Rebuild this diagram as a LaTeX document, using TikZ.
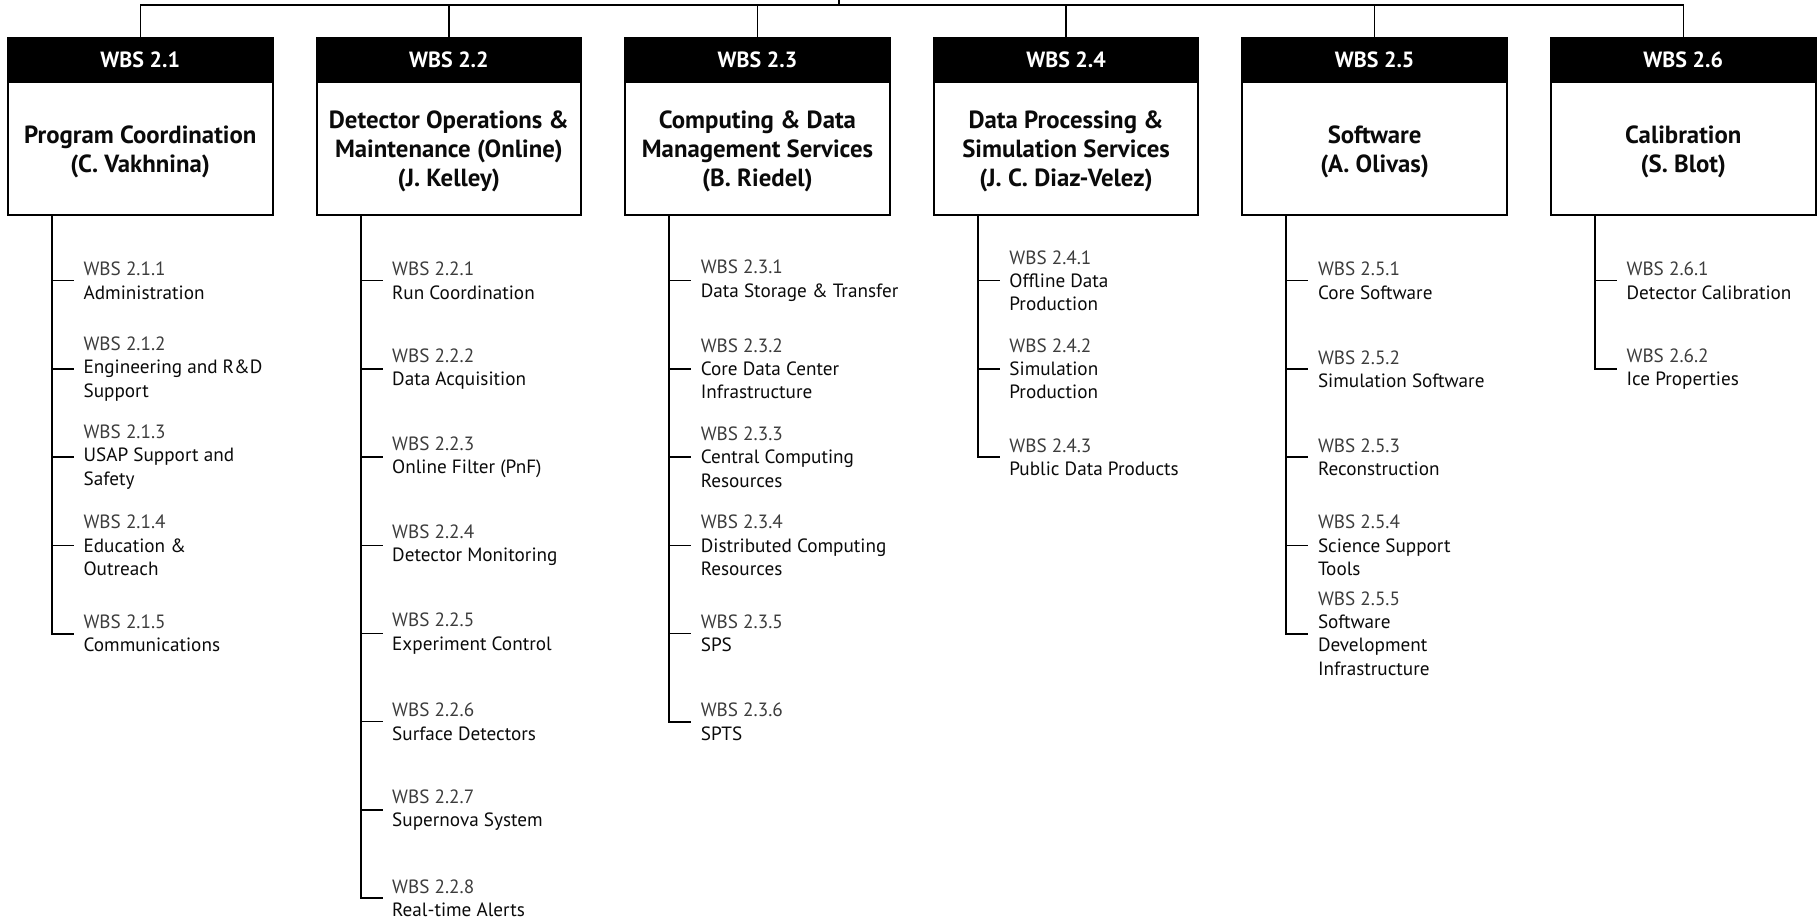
\documentclass[tikz,border=0pt]{standalone}
\usepackage{fontspec}
\setmainfont{PT Sans}
\definecolor{numgray}{HTML}{3C3C3C}
\definecolor{txtblack}{HTML}{0A0A0A}
\newcommand\wbsnum[1]{{\color{numgray}WBS #1}}
\tikzset{
  hdr/.style={draw=black, fill=black, line width=1.5pt, minimum width=198.4pt, minimum height=33pt, inner sep=0pt,
    text=white, font=\bfseries\fontsize{16.5}{18}\selectfont},
  bodybox/.style={draw=black, line width=1.5pt, minimum width=198.4pt, minimum height=99.75pt, inner sep=0pt},
  bodytext/.style={inner sep=0pt, align=center, font=\bfseries\fontsize{18.6}{21.75}\selectfont, text=txtblack},
  itemnode/.style={anchor=west, align=left, inner xsep=7pt, inner ysep=0pt,
    font=\fontsize{14.4}{17.4}\selectfont, text=txtblack},
  trunk/.style={line width=1.5pt},
  tick/.style={line width=1pt},
  bus/.style={line width=1.1pt}
}
\begin{document}
\begin{tikzpicture}[x=0.75pt, y=-0.75pt]
\useasboundingbox (0,0) rectangle (1819,923);
% boxes
\foreach \i/\L/\title in {1/8/{Program Coordination\\(C. Vakhnina)},
  2/316.6/{Detector Operations \&\\Maintenance (Online)\\(J. Kelley)},
  3/625.2/{Computing \& Data\\Management Services\\(B. Riedel)},
  4/933.8/{Data Processing \&\\Simulation Services\\(J. C. Diaz-Velez)},
  5/1242.4/{Software\\(A. Olivas)},
  6/1551/{Calibration\\(S. Blot)}}{
  \node[bodybox] (b\i) at (\L+132.25,148.5) {};
  \node[bodytext] (bt\i) at ([yshift=-2.3pt]b\i.center) {\title};
  \node[hdr] (h\i) at (\L+132.25,60) {WBS 2.\i};
  \coordinate (t\i) at (\L+44,215);
}
% bus
\coordinate (root) at (839,0);
\coordinate (busy) at (0,5);
\draw[bus] (h1.north) -- (h1.north |- busy) -- (h6.north |- busy) -- (h6.north);
\foreach \i in {2,3,4,5}{\draw[bus] (h\i.north) -- (h\i.north |- busy);}
\draw[bus] (root) -- (root |- busy);

% column 1
\node[itemnode] (i11) at (74,280.7) {\wbsnum{2.1.1}\\Administration};
\node[itemnode] (i12) at (74,368.9) {\wbsnum{2.1.2}\\Engineering and R\&D\\Support};
\node[itemnode] (i13) at (74,457.1) {\wbsnum{2.1.3}\\USAP Support and\\Safety};
\node[itemnode] (i14) at (74,545.3) {\wbsnum{2.1.4}\\Education \&\\Outreach};
\node[itemnode] (i15) at (74,633.5) {\wbsnum{2.1.5}\\Communications};
% column 2
\node[itemnode] (i21) at (382.6,280.7) {\wbsnum{2.2.1}\\Run Coordination};
\node[itemnode] (i22) at (382.6,368.9) {\wbsnum{2.2.2}\\Data Acquisition};
\node[itemnode] (i23) at (382.6,457.1) {\wbsnum{2.2.3}\\Online Filter (PnF)};
\node[itemnode] (i24) at (382.6,545.3) {\wbsnum{2.2.4}\\Detector Monitoring};
\node[itemnode] (i25) at (382.6,633.5) {\wbsnum{2.2.5}\\Experiment Control};
\node[itemnode] (i26) at (382.6,721.7) {\wbsnum{2.2.6}\\Surface Detectors};
\node[itemnode] (i27) at (382.6,809.9) {\wbsnum{2.2.7}\\Supernova System};
\node[itemnode] (i28) at (382.6,898.1) {\wbsnum{2.2.8}\\Real-time Alerts};
% column 3
\node[itemnode] (i31) at (691.2,280.7) {\wbsnum{2.3.1}\\Data Storage \& Transfer};
\node[itemnode] (i32) at (691.2,368.9) {\wbsnum{2.3.2}\\Core Data Center\\Infrastructure};
\node[itemnode] (i33) at (691.2,457.1) {\wbsnum{2.3.3}\\Central Computing\\Resources};
\node[itemnode] (i34) at (691.2,545.3) {\wbsnum{2.3.4}\\Distributed Computing\\Resources};
\node[itemnode] (i35) at (691.2,633.5) {\wbsnum{2.3.5}\\SPS};
\node[itemnode] (i36) at (691.2,721.7) {\wbsnum{2.3.6}\\SPTS};
% column 4
\node[itemnode] (i41) at (999.8,280.7) {\wbsnum{2.4.1}\\Offline Data\\Production};
\node[itemnode] (i42) at (999.8,368.9) {\wbsnum{2.4.2}\\Simulation\\Production};
\node[itemnode] (i43) at (999.8,457.1) {\wbsnum{2.4.3}\\Public Data Products};
% column 5
\node[itemnode] (i51) at (1308.4,280.7) {\wbsnum{2.5.1}\\Core Software};
\node[itemnode] (i52) at (1308.4,368.9) {\wbsnum{2.5.2}\\Simulation Software};
\node[itemnode] (i53) at (1308.4,457.1) {\wbsnum{2.5.3}\\Reconstruction};
\node[itemnode] (i54) at (1308.4,545.3) {\wbsnum{2.5.4}\\Science Support\\Tools};
\node[itemnode] (i55) at (1308.4,633.5) {\wbsnum{2.5.5}\\Software\\Development\\Infrastructure};
% column 6
\node[itemnode] (i61) at (1617,280.7) {\wbsnum{2.6.1}\\Detector Calibration};
\node[itemnode] (i62) at (1617,368.9) {\wbsnum{2.6.2}\\Ice Properties};

% trunks and ticks
\foreach \c/\n in {1/5,2/8,3/6,4/3,5/5,6/2}{
  \draw[trunk] (t\c) -- (t\c |- i\c\n.west) -- (i\c\n.west);
  \foreach \k in {1,...,\n}{
    \draw[tick] (t\c |- i\c\k.west) -- (i\c\k.west);
  }
}
\end{tikzpicture}
\end{document}
